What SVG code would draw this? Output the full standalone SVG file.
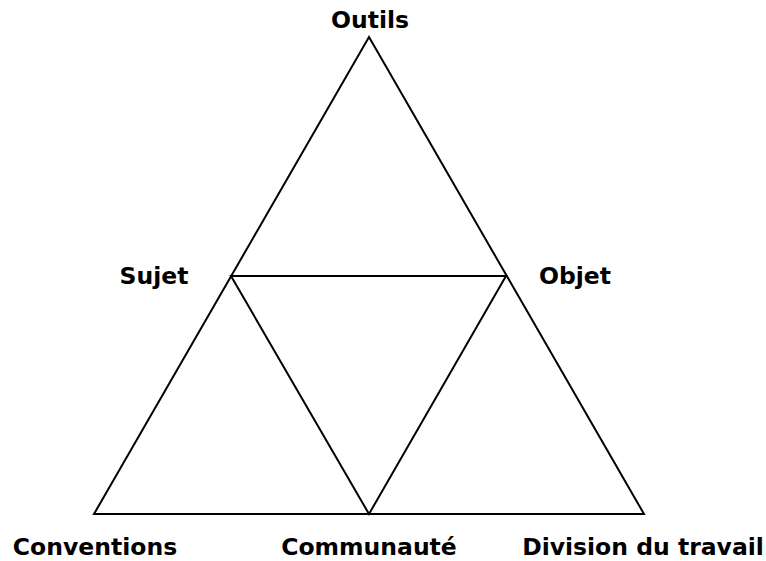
<svg xmlns="http://www.w3.org/2000/svg" width="766" height="561" viewBox="0 0 766 561">
<style>
.e{stroke:#000;stroke-width:2;fill:none;stroke-linejoin:miter}
.t{font-family:"DejaVu Sans",Verdana,sans-serif;font-weight:bold;font-size:23.5px;fill:#000;text-anchor:middle}
</style>
<rect width="766" height="561" fill="#fff"/>
<g id="connectors">
<polygon class="e" points="369,37 94,514 644,514"/>
<polygon class="e" points="231,276 506,276 369,514"/>
</g>
<g id="outils"><text class="t" x="370" y="28">Outils</text></g>
<g id="sujet"><text class="t" x="154" y="284">Sujet</text></g>
<g id="objet"><text class="t" x="575" y="284">Objet</text></g>
<g id="conventions"><text class="t" x="95" y="555">Conventions</text></g>
<g id="communaute"><text class="t" x="369" y="555">Communauté</text></g>
<g id="division"><text class="t" x="643" y="555">Division du travail</text></g>
</svg>
